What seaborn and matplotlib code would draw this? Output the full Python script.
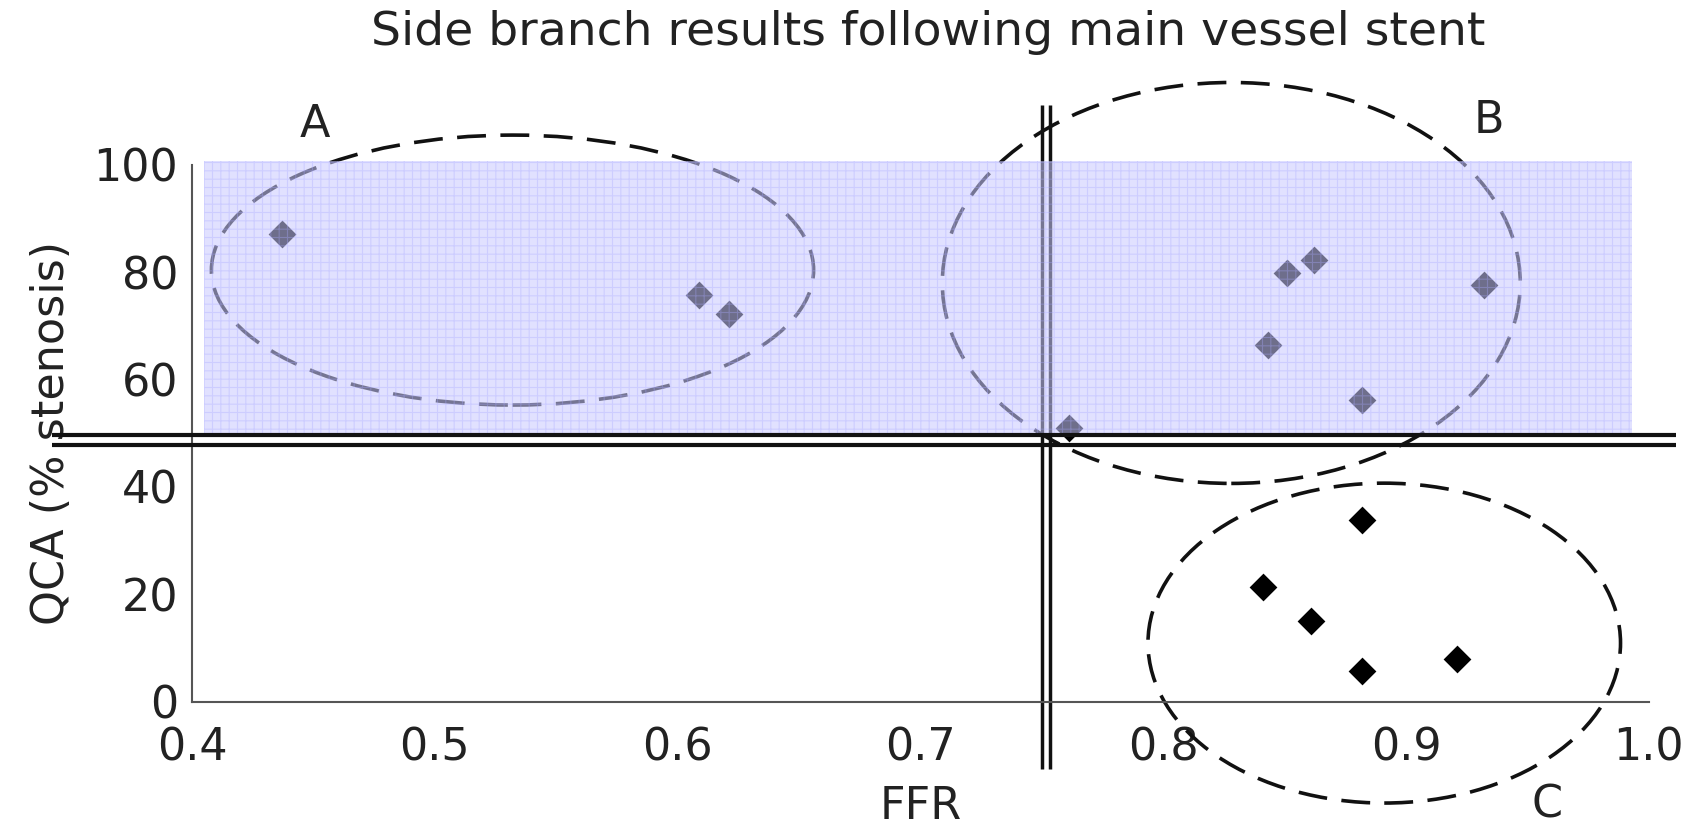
import matplotlib
matplotlib.use("Agg")
import matplotlib.pyplot as plt
import pandas as pd
import seaborn as sns
from matplotlib.patches import Ellipse, Rectangle

# side branch results
ffr_a = [0.437, 0.609, 0.621]
qca_a = [87.2, 75.7, 72.3]
ffr_b = [0.761, 0.843, 0.851, 0.862, 0.882, 0.932]
qca_b = [51.0, 66.5, 79.9, 82.2, 56.2, 77.6]
ffr_c = [0.882, 0.841, 0.861, 0.882, 0.921]
qca_c = [33.8, 21.3, 15.1, 5.7, 8.0]

# group outlines: centre ffr, centre qca, width, height
groups = ["A", "B", "C"]
ell_ffr = [0.532, 0.828, 0.891]
ell_qca = [80.4, 78.0, 10.9]
ell_w = [0.248, 0.238, 0.1946]
ell_h = [50.3, 74.7, 59.6]
label_ffr = [0.4505, 0.934, 0.958]
label_qca = [107.6, 108.2, -19.2]

# cut-offs and shaded zone
ffr_cut = 0.7517
qca_cut = 48.75
zone_ffr = [0.405, 0.993]
zone_qca = [50.0, 100.7]

x_ticks = [0.4, 0.5, 0.6, 0.7, 0.8, 0.9, 1.0]
x_labels = ["0.4", "0.5", "0.6", "0.7", "0.8", "0.9", "1.0"]
y_ticks = [0, 20, 40, 60, 80, 100]

points = pd.DataFrame({
    "FFR": ffr_a + ffr_b + ffr_c,
    "QCA": qca_a + qca_b + qca_c,
    "group": ["A"] * len(ffr_a) + ["B"] * len(ffr_b) + ["C"] * len(ffr_c),
})

sns.set_style("white")
plt.rcParams["font.family"] = ["DejaVu Sans"]
plt.rcParams["hatch.linewidth"] = 0.8
fs = 32

fig, ax = plt.subplots(figsize=(16.9, 8.26), dpi=100)
fig.subplots_adjust(left=0.1136, right=0.9757, bottom=0.1506, top=0.8004)

sns.scatterplot(data=points, x="FFR", y="QCA", marker="D", s=200, color="black",
                linewidth=0, legend=False, ax=ax, zorder=3)

for g, cx, cy, w, h in zip(groups, ell_ffr, ell_qca, ell_w, ell_h):
    ax.add_patch(Ellipse((cx, cy), w, h, fill=False, edgecolor="#111111", linewidth=2.6,
                         linestyle=(0, (8, 4)), clip_on=False, zorder=2))
for g, lx, ly in zip(groups, label_ffr, label_qca):
    ax.text(lx, ly, g, fontsize=fs, ha="center", va="center", color="#222222", clip_on=False)

# vertical double line under the shaded zone
for dx in (-0.0015, 0.0015):
    ax.plot([ffr_cut + dx] * 2, [-12.5, 111.2], color="#111111", linewidth=2.5,
            clip_on=False, zorder=2, solid_capstyle="butt")

ax.add_patch(Rectangle((zone_ffr[0], zone_qca[0]), zone_ffr[1] - zone_ffr[0],
                       zone_qca[1] - zone_qca[0], facecolor=(0.79, 0.79, 1.0, 0.55),
                       edgecolor=(0.66, 0.66, 1.0, 0.35), hatch="++", linewidth=0,
                       clip_on=False, zorder=4))

# horizontal double line on top
for dy in (-0.9, 0.9):
    ax.plot([0.3424, 1.0113], [qca_cut + dy] * 2, color="#111111", linewidth=3,
            clip_on=False, zorder=5, solid_capstyle="butt")

ax.set_xlim(0.4, 1.0)
ax.set_ylim(0, 100)
ax.set_xticks(x_ticks)
ax.set_xticklabels(x_labels)
ax.set_yticks(y_ticks)
sns.despine(ax=ax)
for side in ("left", "bottom"):
    ax.spines[side].set_color("#555555")
    ax.spines[side].set_linewidth(1.5)
ax.tick_params(axis="both", direction="in", width=1.2, color="#333333",
               labelsize=fs, labelcolor="#222222")
ax.tick_params(axis="x", length=26, pad=18)
ax.tick_params(axis="y", length=28, pad=10)

ax.set_xlabel("FFR", fontsize=fs, color="#222222")
ax.set_ylabel("QCA (% stenosis)", fontsize=fs, color="#222222")
ax.xaxis.set_label_coords(0.5, -0.155)
ax.yaxis.set_label_coords(-0.082, 0.5)
ax.set_title("Side branch results following main vessel stent", fontsize=34,
             color="#222222", x=0.5055, pad=86)

fig.savefig("out.png", dpi=100)
